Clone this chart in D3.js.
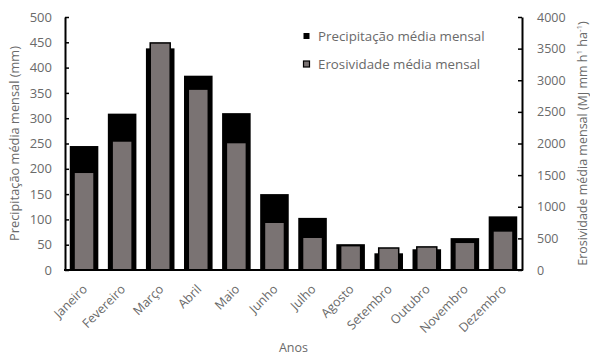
<!DOCTYPE html>
<html>
<head>
<meta charset="utf-8">
<script src="https://cdn.jsdelivr.net/npm/d3@7/dist/d3.min.js"></script>
<style>
  html, body { margin: 0; padding: 0; background: #fff; }
  svg text { font-family: "Open Sans", sans-serif; fill: #6a6a6a; }
</style>
</head>
<body>
<svg id="chart" width="590" height="355"></svg>
<script>
// Monthly means: rainfall (mm, left axis) and erosivity (MJ mm h-1 ha-1, right axis)
const months = ["Janeiro", "Fevereiro", "Março", "Abril", "Maio", "Junho",
                "Julho", "Agosto", "Setembro", "Outubro", "Novembro", "Dezembro"];
const precipitation = [245, 309, 438, 384, 310, 150, 103, 51, 33, 41, 63, 106];
const erosivity = [1545, 2040, 3590, 2860, 2015, 755, 518, 385, 348, 365, 438, 618];
const leftTicks = [0, 50, 100, 150, 200, 250, 300, 350, 400, 450, 500];
const rightTicks = [0, 500, 1000, 1500, 2000, 2500, 3000, 3500, 4000];
const legendLabels = ["Precipitação média mensal", "Erosividade média mensal"];

const svg = d3.select("#chart");
const plot = { left: 65, right: 522, top: 17, bottom: 270 };

const x = d3.scaleBand().domain(months).range([plot.left, plot.right]).paddingInner(0.25).paddingOuter(0.125);
const yL = d3.scaleLinear().domain([0, 500]).range([plot.bottom, plot.top]);
const yR = d3.scaleLinear().domain([0, 4000]).range([plot.bottom, plot.top]);

const greyFill = "#7a7373";
const greyW = 20;

// rainfall bars (black, wide)
svg.append("g").selectAll("rect")
  .data(months)
  .join("rect")
  .attr("x", d => x(d))
  .attr("width", x.bandwidth())
  .attr("y", (d, i) => yL(precipitation[i]))
  .attr("height", (d, i) => yL(0) - yL(precipitation[i]))
  .attr("fill", "#000");

// erosivity bars (grey, narrower, outlined)
svg.append("g").selectAll("rect")
  .data(months)
  .join("rect")
  .attr("x", d => x(d) + x.bandwidth() / 2 - greyW / 2)
  .attr("width", greyW)
  .attr("y", (d, i) => yR(erosivity[i]))
  .attr("height", (d, i) => yR(0) - yR(erosivity[i]))
  .attr("fill", greyFill)
  .attr("stroke", "#000")
  .attr("stroke-width", 1.5);

// left axis
const axL = svg.append("g")
  .attr("transform", `translate(${plot.left},0)`)
  .call(d3.axisLeft(yL).tickValues(leftTicks).tickSizeInner(-4).tickSizeOuter(0).tickPadding(13));
// right axis
const axR = svg.append("g")
  .attr("transform", `translate(${plot.right},0)`)
  .call(d3.axisRight(yR).tickValues(rightTicks).tickFormat(d3.format("d"))
    .tickSizeInner(-4).tickSizeOuter(0).tickPadding(15));
// bottom axis
const axB = svg.append("g")
  .attr("transform", `translate(0,${plot.bottom})`)
  .call(d3.axisBottom(x).tickSize(0).tickPadding(8));

[axL, axR, axB].forEach(ax => {
  ax.select(".domain").attr("stroke", "#000").attr("stroke-width", 2);
  ax.selectAll(".tick line").attr("stroke", "#000").attr("stroke-width", 1.5);
  ax.selectAll("text").attr("font-size", 13).attr("fill", "#6a6a6a");
});
axR.selectAll("text").attr("font-size", 12.5);
axB.select(".domain").attr("d", `M${plot.left - 1},0H${plot.right + 1}`);

axB.selectAll(".tick text")
  .attr("font-size", 12.5)
  .attr("text-anchor", "end")
  .attr("x", 0)
  .attr("y", 0)
  .attr("dy", 0)
  .attr("transform", "translate(4,20) rotate(-45)");

// axis titles
svg.append("text")
  .attr("transform", `translate(19,${(plot.top + plot.bottom) / 2}) rotate(-90)`)
  .attr("text-anchor", "middle")
  .attr("font-size", 12.8)
  .text("Precipitação média mensal (mm)");

const rt = svg.append("text")
  .attr("transform", `translate(587,${(plot.top + plot.bottom) / 2}) rotate(-90)`)
  .attr("text-anchor", "middle")
  .attr("font-size", 12.5);
rt.append("tspan").text("Erosividade média mensal (MJ mm h");
rt.append("tspan").attr("dy", -5).attr("font-size", 8).text("1");
rt.append("tspan").attr("dy", 5).text(" ha");
rt.append("tspan").attr("dy", -5).attr("font-size", 8).text("-1");
rt.append("tspan").attr("dy", 5).text(")");

svg.append("text")
  .attr("x", (plot.left + plot.right) / 2)
  .attr("y", 352)
  .attr("text-anchor", "middle")
  .attr("font-size", 12.5)
  .text("Anos");

// legend
const legend = svg.append("g").attr("transform", "translate(303,32.5)");
legendLabels.forEach((label, i) => {
  const g = legend.append("g").attr("transform", `translate(0,${i * 28})`);
  g.append("rect")
    .attr("x", 0.5).attr("y", 0.5).attr("width", 6).attr("height", 6)
    .attr("fill", i === 0 ? "#000" : greyFill)
    .attr("stroke", "#000").attr("stroke-width", i === 0 ? 0 : 1.2);
  g.append("text")
    .attr("x", 15).attr("y", 8.3)
    .attr("font-size", 13.3)
    .text(label);
});
</script>
</body>
</html>
